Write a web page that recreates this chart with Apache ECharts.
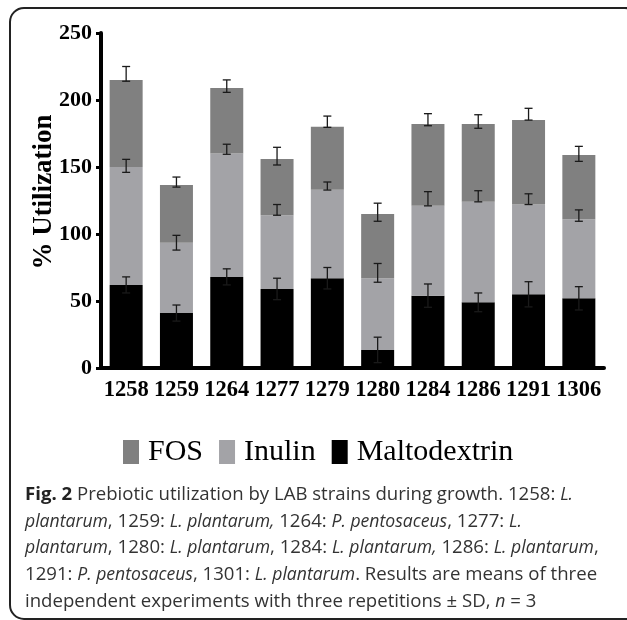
<!DOCTYPE html>
<html>
<head>
<meta charset="utf-8">
<script src="https://cdn.jsdelivr.net/npm/echarts@6/dist/echarts.min.js"></script>
<style>
  html, body { margin: 0; padding: 0; background: #fff; }
  .wrap { position: relative; width: 627px; height: 620px; }
  #chart { position: absolute; left: 0; top: 0; width: 627px; height: 620px; }
  .caption {
    position: absolute;
    left: 25px;
    top: 480px;
    font-family: 'Open Sans', sans-serif;
    font-size: 18.6px;
    line-height: 25.7px;
    color: #333;
    white-space: nowrap;
  }
  .caption i { font-size: 17.6px; }
  .caption b { color: #222; }
</style>
</head>
<body>
<div class="wrap">
  <div id="chart"></div>
  <div class="caption">
    <b>Fig. 2</b> Prebiotic utilization by LAB strains during growth. 1258: <i>L.</i><br>
    <i>plantarum</i>, 1259: <i>L. plantarum,</i> 1264: <i>P. pentosaceus</i>, 1277: <i>L.</i><br>
    <i>plantarum</i>, 1280: <i>L. plantarum</i>, 1284: <i>L. plantarum,</i> 1286: <i>L. plantarum</i>,<br>
    1291: <i>P. pentosaceus</i>, 1301: <i>L. plantarum</i>. Results are means of three<br>
    independent experiments with three repetitions ± SD, <i>n</i> = 3
  </div>
</div>
<script>
// strains on the x axis
const strains = ['1258', '1259', '1264', '1277', '1279', '1280', '1284', '1286', '1291', '1306']

// stacked segments (% utilization), bottom to top
const maltodextrin = [62, 41, 68, 59, 67, 13.5, 54, 49, 55, 52]
const inulin = [88, 52.5, 92, 55, 66, 53.5, 67, 75, 67, 59]
const fos = [65, 43, 49, 42, 47, 48, 61, 58, 63, 48]

// error bar caps, above / below each segment top
const maltoErrUp = [6, 6, 6, 8, 8, 9.5, 8.7, 7, 9.4, 8.7]
const maltoErrDown = [6, 6, 6, 8, 8, 9.5, 8.7, 7, 9.4, 8.7]
const inulinErrUp = [5.7, 5.5, 7, 8, 5.8, 11, 10.6, 8.3, 8, 7]
const inulinErrDown = [4, 5.5, 0.5, 0, 0.2, 3, 0, 0, 0, 1.5]
const fosErrUp = [10, 6, 6, 8.7, 8, 8, 7.8, 7, 8.8, 6.4]
const fosErrDown = [1, 1.5, 3.3, 4.5, 0.4, 5.5, 1.2, 3.1, 0, 4.8]

const yTicks = { min: 0, max: 250, interval: 50 }

const chart = echarts.init(document.getElementById('chart'))

// cumulative tops so the error bars sit on the stacked segments
const errData = []
strains.forEach((s, i) => {
  const t1 = maltodextrin[i]
  const t2 = t1 + inulin[i]
  const t3 = t2 + fos[i]
  errData.push([i, t1 - maltoErrDown[i], t1 + maltoErrUp[i]])
  errData.push([i, t2 - inulinErrDown[i], t2 + inulinErrUp[i]])
  errData.push([i, t3 - fosErrDown[i], t3 + fosErrUp[i]])
})

function renderErr (params, api) {
  const hi = api.coord([api.value(0), api.value(2)])
  const lo = api.coord([api.value(0), api.value(1)])
  const hw = 4
  const style = { stroke: '#1a1a1a', lineWidth: 1.3 }
  return {
    type: 'group',
    children: [
      { type: 'line', shape: { x1: hi[0], y1: hi[1], x2: lo[0], y2: lo[1] }, style },
      { type: 'line', shape: { x1: hi[0] - hw, y1: hi[1], x2: hi[0] + hw, y2: hi[1] }, style },
      { type: 'line', shape: { x1: lo[0] - hw, y1: lo[1], x2: lo[0] + hw, y2: lo[1] }, style }
    ]
  }
}

const serif = "'Liberation Serif', 'Times New Roman', serif"

const option = {
  animation: false,
  grid: {
    left: 101,
    right: 23,
    top: 33,
    bottom: 252,
    containLabel: false
  },
  legend: {
    data: ['FOS', 'Inulin', 'Maltodextrin'],
    left: 123,
    top: 437,
    padding: 0,
    itemWidth: 16,
    itemHeight: 24,
    itemGap: 16,
    icon: 'rect',
    textStyle: {
      fontFamily: serif,
      fontSize: 30,
      color: '#000',
      padding: [0, 0, 0, 4]
    }
  },
  xAxis: {
    type: 'category',
    data: strains,
    axisLine: { lineStyle: { color: '#000', width: 4 } },
    axisTick: { alignWithLabel: true, length: 6, lineStyle: { color: '#000', width: 3 } },
    axisLabel: {
      interval: 0,
      margin: 11,
      fontFamily: serif,
      fontWeight: 'bold',
      fontSize: 22.5,
      color: '#000'
    }
  },
  yAxis: {
    type: 'value',
    min: yTicks.min,
    max: yTicks.max,
    interval: yTicks.interval,
    splitLine: { show: false },
    axisLine: { show: true, lineStyle: { color: '#000', width: 4 } },
    axisTick: { show: true, length: 5, lineStyle: { color: '#000', width: 3 } },
    axisLabel: {
      margin: 9,
      fontFamily: serif,
      fontWeight: 'bold',
      fontSize: 22,
      color: '#000'
    }
  },
  graphic: [
    {
      type: 'rect',
      shape: { x: 10, y: 8, width: 629, height: 611, r: 14 },
      style: { fill: 'none', stroke: '#222', lineWidth: 2 },
      silent: true
    },
    {
      // y axis title
      type: 'text',
      x: 44,
      y: 192,
      rotation: Math.PI / 2,
      style: {
        text: '% Utilization',
        font: "bold 27px 'Liberation Serif', serif",
        fill: '#000',
        align: 'center',
        verticalAlign: 'middle'
      },
      silent: true
    }
  ],
  series: [
    {
      name: 'Maltodextrin',
      type: 'bar',
      stack: 'total',
      barWidth: 33,
      itemStyle: { color: '#000' },
      data: maltodextrin
    },
    {
      name: 'Inulin',
      type: 'bar',
      stack: 'total',
      barWidth: 33,
      itemStyle: { color: '#a3a3a7' },
      data: inulin
    },
    {
      name: 'FOS',
      type: 'bar',
      stack: 'total',
      barWidth: 33,
      itemStyle: { color: '#808080' },
      data: fos
    },
    {
      type: 'custom',
      renderItem: renderErr,
      data: errData,
      z: 10,
      silent: true
    }
  ]
}

chart.setOption(option)
</script>
</body>
</html>
